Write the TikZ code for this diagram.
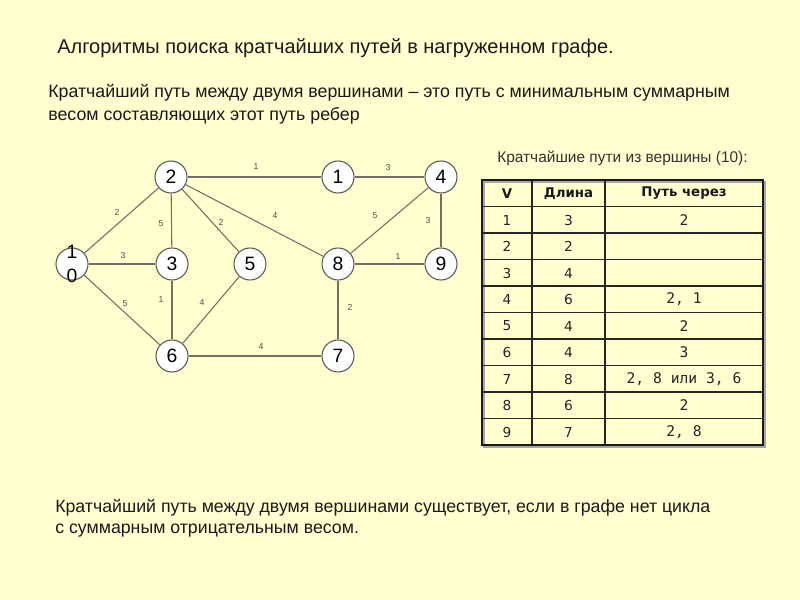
\documentclass[tikz,border=0pt]{standalone}
\usepackage{fontspec}
\setmainfont{Liberation Sans}
\newfontfamily\tabfont{DejaVu Sans}
\newfontfamily\tabmono{DejaVu Sans Mono}

\definecolor{paper}{RGB}{255,255,208}
\definecolor{edgegray}{RGB}{112,112,100}
\definecolor{ringgray}{RGB}{90,90,85}

\tikzset{
  vertex/.style={circle,draw=ringgray,fill=white,line width=0.8pt,minimum size=24pt,inner sep=0pt,font=\fontsize{14.5}{18}\selectfont},
  weight/.style={font=\fontsize{6.5}{8}\selectfont,text=black!70,inner sep=0pt},
  edge/.style={draw=edgegray,line width=0.8pt},
  bigtext/.style={anchor=base west,inner sep=0pt,text=black!90},
  cell/.style={font=\tabfont\fontsize{10.3}{12}\selectfont,text=black!85},
  headcell/.style={font=\tabfont\bfseries\fontsize{10}{12}\selectfont,text=black!90},
  monocell/.style={font=\tabmono\fontsize{11}{13}\selectfont,text=black!85},
}

\begin{document}
\begin{tikzpicture}[x=0.75pt,y=-0.75pt]

\fill [paper] (0,0) rectangle (800,600);
\useasboundingbox (0,0) rectangle (800,600);

% texts
\node [bigtext,font=\fontsize{15}{17}\selectfont] (title) at (57,53) {Алгоритмы поиска кратчайших путей в нагруженном графе.};
\node [bigtext,font=\fontsize{13.35}{15}\selectfont] (defa) at (48,97) {Кратчайший путь между двумя вершинами – это путь с минимальным суммарным};
\node [bigtext,font=\fontsize{13.35}{15}\selectfont] (defb) at (48,120) {весом составляющих этот путь ребер};
\node [bigtext,font=\fontsize{13.3}{15}\selectfont] (nota) at (55,512) {Кратчайший путь между двумя вершинами существует, если в графе нет цикла};
\node [bigtext,font=\fontsize{13.3}{15}\selectfont] (notb) at (55,533) {с суммарным отрицательным весом.};
\node [bigtext,font=\fontsize{11.6}{13}\selectfont,text=black!80] (caption) at (497,162) {Кратчайшие пути из вершины (10):};

% graph
\node [vertex] (v2) at (171,177) {2};
\node [vertex] (v1) at (338,177) {1};
\node [vertex] (v4) at (441,177) {4};
\node [vertex,label={[font=\fontsize{14.5}{18}\selectfont,align=center,inner sep=0pt]center:{1\\0}}] (v10) at (72,264) {};
\node [vertex] (v3) at (172,264) {3};
\node [vertex] (v5) at (250,264) {5};
\node [vertex] (v8) at (338,264) {8};
\node [vertex] (v9) at (441,264) {9};
\node [vertex] (v6) at (172,356) {6};
\node [vertex] (v7) at (338,356) {7};

\draw [edge] (v10) -- (v2);
\draw [edge] (v10) -- (v3);
\draw [edge] (v10) -- (v6);
\draw [edge] (v2) -- (v1);
\draw [edge] (v1) -- (v4);
\draw [edge] (v2) -- (v3);
\draw [edge] (v2) -- (v5);
\draw [edge] (v2) -- (v8);
\draw [edge] (v4) -- (v8);
\draw [edge] (v4) -- (v9);
\draw [edge] (v8) -- (v9);
\draw [edge] (v8) -- (v7);
\draw [edge] (v3) -- (v6);
\draw [edge] (v5) -- (v6);
\draw [edge] (v6) -- (v7);

\node [weight] (w21) at (256,167) {1};
\node [weight] (w14) at (388,168) {3};
\node [weight] (w102) at (117,212) {2};
\node [weight] (w23) at (161,224) {5};
\node [weight] (w25) at (221,222) {2};
\node [weight] (w28) at (275,216) {4};
\node [weight] (w48) at (375,216) {5};
\node [weight] (w49) at (428,221) {3};
\node [weight] (w103) at (123,256) {3};
\node [weight] (w89) at (398,257) {1};
\node [weight] (w106) at (125,304) {5};
\node [weight] (w36) at (161,300) {1};
\node [weight] (w56) at (202,303) {4};
\node [weight] (w87) at (350,307) {2};
\node [weight] (w67) at (261,347) {4};

% table
\draw [black!35,line width=1.5pt] (484,182) rectangle (765,447);
\draw [line width=1pt,black!85] (482,206.5) -- (763,206.5);
\draw [line width=1pt,black!85] (482,233) -- (763,233);
\draw [line width=1pt,black!85] (482,259.5) -- (763,259.5);
\draw [line width=1pt,black!85] (482,286) -- (763,286);
\draw [line width=1pt,black!85] (482,312.5) -- (763,312.5);
\draw [line width=1pt,black!85] (482,339) -- (763,339);
\draw [line width=1pt,black!85] (482,365.5) -- (763,365.5);
\draw [line width=1pt,black!85] (482,392) -- (763,392);
\draw [line width=1pt,black!85] (482,418.5) -- (763,418.5);
\draw [line width=1pt,black!85] (532,180) -- (532,445);
\draw [line width=1pt,black!85] (605,180) -- (605,445);
\draw [line width=1.8pt,black!90] (482,180) rectangle (763,445);

\node [headcell] (hv) at (507,193.5) {V};
\node [headcell] (hlen) at (568.5,193.5) {Длина};
\node [headcell] (hvia) at (684,193.5) {Путь через};

\node [cell] (r1v) at (507,220) {1};
\node [cell] (r1l) at (568.5,220) {3};
\node [monocell] (r1p) at (684,220) {2};
\node [cell] (r2v) at (507,246.5) {2};
\node [cell] (r2l) at (568.5,246.5) {2};
\node [cell] (r3v) at (507,273) {3};
\node [cell] (r3l) at (568.5,273) {4};
\node [cell] (r4v) at (507,299.5) {4};
\node [cell] (r4l) at (568.5,299.5) {6};
\node [monocell] (r4p) at (684,299.5) {2, 1};
\node [cell] (r5v) at (507,326) {5};
\node [cell] (r5l) at (568.5,326) {4};
\node [monocell] (r5p) at (684,326) {2};
\node [cell] (r6v) at (507,352.5) {6};
\node [cell] (r6l) at (568.5,352.5) {4};
\node [monocell] (r6p) at (684,352.5) {3};
\node [cell] (r7v) at (507,379) {7};
\node [cell] (r7l) at (568.5,379) {8};
\node [monocell] (r7p) at (684,379) {2, 8 или 3, 6};
\node [cell] (r8v) at (507,405.5) {8};
\node [cell] (r8l) at (568.5,405.5) {6};
\node [monocell] (r8p) at (684,405.5) {2};
\node [cell] (r9v) at (507,432) {9};
\node [cell] (r9l) at (568.5,432) {7};
\node [monocell] (r9p) at (684,432) {2, 8};

\end{tikzpicture}
\end{document}
